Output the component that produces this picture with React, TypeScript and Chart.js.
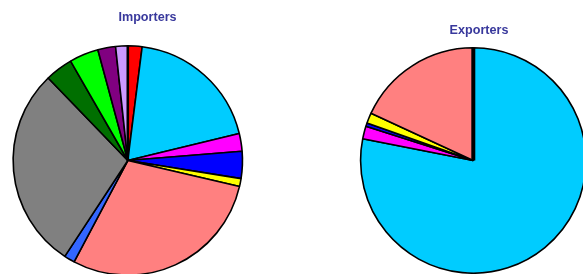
import React, { useEffect, useRef } from 'react';
import { Chart, registerables } from 'chart.js';

Chart.register(...registerables);

// Categories (shared colour key between both pies)
const categories = [
  'Category 1', 'Category 2', 'Category 3', 'Category 4', 'Category 5', 'Category 6',
  'Category 7', 'Category 8', 'Category 9', 'Category 10', 'Category 11', 'Category 12',
];
const sliceColors = [
  '#ff0000', '#00ccff', '#ff00ff', '#0000ff', '#ffff00', '#ff8080',
  '#3366ff', '#808080', '#006f00', '#00ff00', '#800080', '#cc99ff',
];

// Shares in percent
const importerShares = [2.0, 19.2, 2.5, 3.8, 1.1, 29.1, 1.5, 28.5, 3.9, 4.1, 2.5, 1.7];
const exporterShares = [0, 78.1, 1.8, 0.5, 1.5, 18.1, 0, 0, 0, 0, 0, 0];

const importerTitle = 'Importers';
const exporterTitle = 'Exporters';

const titleColor = '#38389c';
const fontFamily = '"Liberation Sans", Arial, Helvetica, sans-serif';

// Draws the heavier radius line at the 12 o'clock start of each pie
const startLinePlugin = {
  id: 'startLine',
  afterDatasetsDraw(chart: any, _args: any, opts: any) {
    const meta = chart.getDatasetMeta(0);
    const arc = meta.data.find((a: any) => a.circumference > 0);
    if (!arc) return;
    const { x, y, outerRadius, startAngle } = arc.getProps(['x', 'y', 'outerRadius', 'startAngle'], true);
    const ctx = chart.ctx;
    ctx.save();
    ctx.strokeStyle = '#000';
    ctx.lineWidth = opts.width || 2;
    ctx.beginPath();
    ctx.moveTo(x, y);
    ctx.lineTo(x + Math.cos(startAngle) * outerRadius, y + Math.sin(startAngle) * outerRadius);
    ctx.stroke();
    ctx.restore();
  },
};

type PieProps = {
  title: string;
  values: number[];
  left: number;
  width: number;
  height: number;
  padTop: number;
  padBottom: number;
  sideWidth: number;
  startLine: number;
};

function PieChart(p: PieProps) {
  const ref = useRef<HTMLCanvasElement>(null);
  useEffect(() => {
    if (!ref.current) return;
    const chart = new Chart(ref.current, {
      type: 'pie',
      data: {
        labels: categories,
        datasets: [
          {
            data: p.values,
            backgroundColor: sliceColors,
            borderColor: '#000000',
            borderWidth: 1.6,
            hoverOffset: 0,
            offset: 0,
          },
        ],
      },
      options: {
        responsive: false,
        animation: false,
        events: [],
        devicePixelRatio: 1,
        layout: { padding: 0 },
        plugins: {
          title: {
            display: true,
            text: p.title,
            color: titleColor,
            font: { family: fontFamily, size: 12.6, weight: 'bold', lineHeight: 1.2 },
            padding: { top: p.padTop, bottom: p.padBottom },
          },
          legend: {
            display: true,
            position: 'right',
            maxWidth: p.sideWidth,
            labels: { filter: () => false, padding: 400 },
          },
          tooltip: { enabled: false },
          startLine: { width: p.startLine },
        } as any,
      },
      plugins: [startLinePlugin],
    });
    return () => chart.destroy();
  }, []);
  return (
    <canvas
      ref={ref}
      width={p.width}
      height={p.height}
      style={{ position: 'absolute', left: p.left, top: 0, width: p.width, height: p.height }}
    />
  );
}

export default function App() {
  return (
    <div
      style={{
        position: 'fixed',
        left: 0,
        top: 0,
        width: 583,
        height: 274,
        overflow: 'hidden',
        background: '#ffffff',
      }}
    >
      <PieChart
        title={importerTitle}
        values={importerShares}
        left={0}
        width={295}
        height={276}
        padTop={10}
        padBottom={19.9}
        sideWidth={39.4}
        startLine={2.6}
      />
      <PieChart
        title={exporterTitle}
        values={exporterShares}
        left={340}
        width={278}
        height={274}
        padTop={22.6}
        padBottom={9.3}
        sideWidth={11.4}
        startLine={4}
      />
    </div>
  );
}
